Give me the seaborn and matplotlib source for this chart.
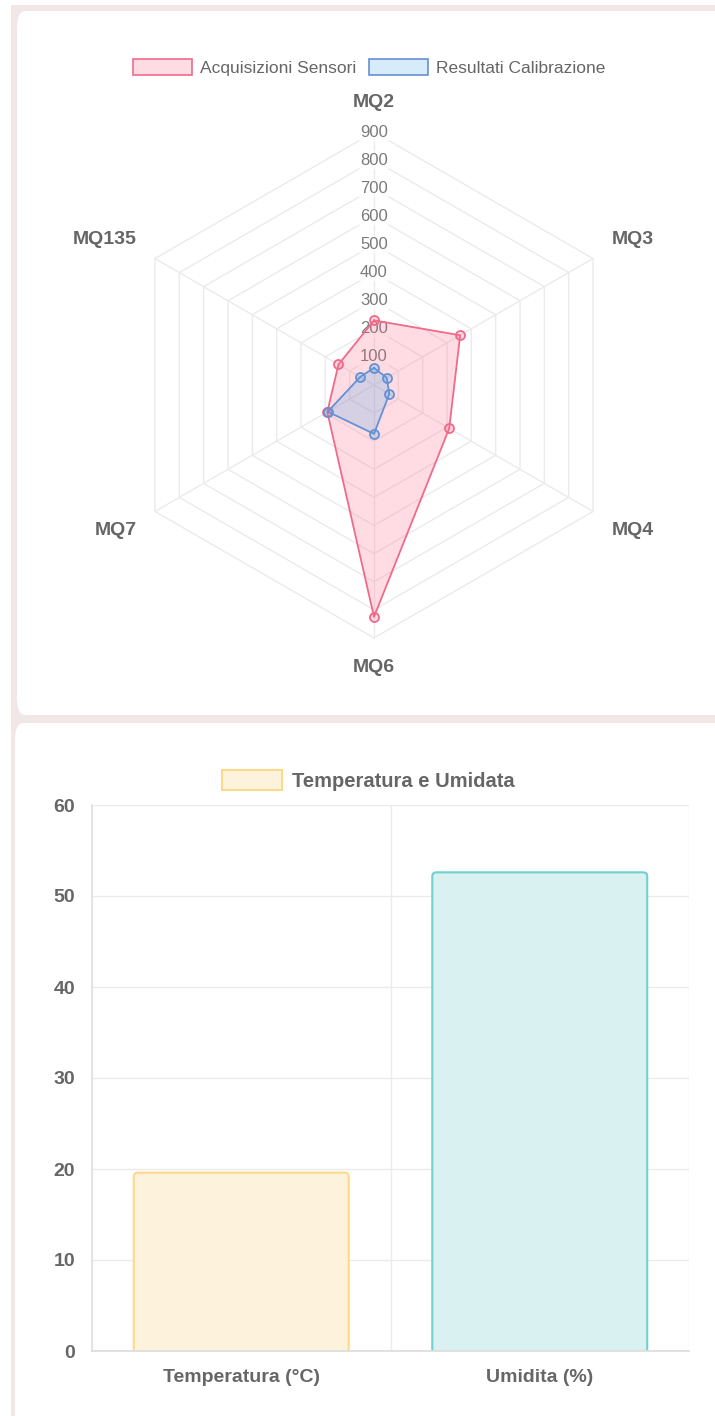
import numpy as np
import pandas as pd
import matplotlib
matplotlib.use("Agg")
import matplotlib.pyplot as plt
import seaborn as sns
from matplotlib.patches import FancyBboxPatch, Patch, Rectangle

# radar data
sensors = ['MQ2', 'MQ3', 'MQ4', 'MQ6', 'MQ7', 'MQ135']
acquisizioni = [230, 354, 309, 825, 192, 146]
calibrazione = [61, 52, 63, 174, 190, 57]
radar_ticks = [100, 200, 300, 400, 500, 600, 700, 800, 900]

# bar data
bar_labels = ['Temperatura (°C)', 'Umidita (%)']
bar_values = [19.6, 52.6]
bar_ticks = [0, 10, 20, 30, 40, 50, 60]

red = '#f06a8a'
red_fill = (1.0, 0.388, 0.518, 0.22)
blue = '#6690d4'
blue_fill = (0.212, 0.635, 0.922, 0.2)
bar_fills = ['#fdf3dc', '#d9f1f1']
bar_edges = ['#ffd98a', '#72d0d0']
grid_c = '#ebebeb'
txt_c = '#666666'

sns.set_theme(style="white")
plt.rcParams['font.family'] = ['Liberation Sans', 'DejaVu Sans']

W, H = 715, 1416
fig = plt.figure(figsize=(W / 100, H / 100), dpi=100)
fig.patch.set_facecolor('white')

# page frame and cards
fig.patches.append(Rectangle((11 / W, 0), 1, 1 - 5 / H, transform=fig.transFigure,
                             facecolor='#f1e7e7', edgecolor='none', zorder=-10))
fig.patches.append(FancyBboxPatch((17 / W, 1 - 715 / H), 720 / W, 704 / H,
                                  boxstyle='round,pad=0,rounding_size=0.012',
                                  transform=fig.transFigure, facecolor='white',
                                  edgecolor='none', zorder=-9))
fig.patches.append(FancyBboxPatch((15 / W, -0.02), 720 / W, (1416 - 723) / H + 0.02,
                                  boxstyle='round,pad=0,rounding_size=0.012',
                                  transform=fig.transFigure, facecolor='white',
                                  edgecolor='none', zorder=-9))

# ---------------- radar ----------------
cx, cy = 374, 385
R = 281  # px per 1000 units
ax_r = fig.add_axes([(cx - R) / W, (H - cy - R) / H, 2 * R / W, 2 * R / H])
ax_r.set_xlim(-1000, 1000)
ax_r.set_ylim(-1000, 1000)
ax_r.set_aspect('equal')
ax_r.axis('off')

ang = np.deg2rad(90 - 60 * np.arange(len(sensors)))
ca, sa = np.cos(ang), np.sin(ang)

for r in radar_ticks:
    ax_r.plot(np.append(r * ca, r * ca[0]), np.append(r * sa, r * sa[0]),
              color=grid_c, lw=1, zorder=1)
for c, s in zip(ca, sa):
    ax_r.plot([0, 900 * c], [0, 900 * s], color=grid_c, lw=1, zorder=1)
for r in radar_ticks:
    ax_r.text(0, r, str(r), ha='center', va='center', fontsize=12, color='#7a7a7a',
              zorder=2, bbox=dict(facecolor='white', edgecolor='none', alpha=0.75, pad=1))

for vals, lc, fc in [(acquisizioni, red, red_fill), (calibrazione, blue, blue_fill)]:
    v = np.array(vals, dtype=float)
    x, y = v * ca, v * sa
    ax_r.fill(x, y, color=fc, zorder=3, lw=0)
    ax_r.plot(np.append(x, x[0]), np.append(y, y[0]), color=lc, lw=1.3, zorder=4)
    ax_r.plot(x, y, ls='none', marker='o', ms=6.5, mfc=fc, mec=lc, mew=1.3, zorder=5)

rl = 975
for i, name in enumerate(sensors):
    c, s = ca[i], sa[i]
    if abs(c) < 1e-6:
        ha = 'center'
    else:
        ha = 'left' if c > 0 else 'right'
    va = 'bottom' if s > 0 else 'top'
    ax_r.text(rl * c, rl * s, name, ha=ha, va=va, fontsize=14, fontweight='bold',
              color=txt_c, zorder=6, clip_on=False)

leg = fig.legend(handles=[Patch(facecolor=red_fill, edgecolor=red, lw=1.2),
                          Patch(facecolor=blue_fill, edgecolor=blue, lw=1.2)],
                 labels=['Acquisizioni Sensori', 'Resultati Calibrazione'],
                 loc='center', bbox_to_anchor=(369 / W, 1 - 67.5 / H), ncol=2,
                 frameon=False, fontsize=12.5, handlelength=3.4, handleheight=1.05,
                 handletextpad=0.45, columnspacing=0.75, borderpad=0)
for t in leg.get_texts():
    t.set_color(txt_c)

# ---------------- bar chart ----------------
bl, br, bt, bb = 92, 689, 805, 1351
ax_b = fig.add_axes([bl / W, (H - bb) / H, (br - bl) / W, (bb - bt) / H])
df = pd.DataFrame({'cat': bar_labels, 'val': bar_values})
sns.barplot(data=df, x='cat', y='val', hue='cat', palette=bar_fills, legend=False,
            width=0.72, saturation=1, ax=ax_b, zorder=3)

# swap the flat bars for rounded-top ones (bottom corners hidden below the axis)
xu = 2.0 / (br - bl)
yu = (bar_ticks[-1] - bar_ticks[0]) / (bb - bt)
for p, ec in zip(list(ax_b.patches), bar_edges):
    x0, w, h = p.get_x(), p.get_width(), p.get_height()
    fc = p.get_facecolor()
    p.set_visible(False)
    ax_b.add_patch(FancyBboxPatch((x0, -2), w, h + 2,
                                  boxstyle=f'round,pad=0,rounding_size={4 * xu}',
                                  mutation_aspect=yu / xu, facecolor=fc, edgecolor=ec,
                                  lw=1.5, zorder=3, clip_on=True))

ax_b.set_xlim(-0.5, 1.5)
ax_b.set_ylim(bar_ticks[0], bar_ticks[-1])
ax_b.set_yticks(bar_ticks)
ax_b.set_xlabel('')
ax_b.set_ylabel('')
ax_b.set_xticks([-0.5, 0.5, 1.5], minor=True)
ax_b.grid(axis='y', color=grid_c, lw=1, zorder=0)
ax_b.grid(axis='x', which='minor', color=grid_c, lw=1, zorder=0)
ax_b.set_axisbelow(True)
for sp in ['top', 'right']:
    ax_b.spines[sp].set_visible(False)
ax_b.spines['left'].set_color('#e2e2e2')
ax_b.spines['bottom'].set_color('#dddddd')
ax_b.spines['bottom'].set_zorder(4)
ax_b.tick_params(axis='y', length=9, color=grid_c, pad=3, labelsize=14, labelcolor=txt_c)
ax_b.tick_params(axis='x', which='major', length=0, pad=13, labelsize=14, labelcolor=txt_c)
ax_b.tick_params(axis='x', which='minor', length=8, color=grid_c)
for t in ax_b.get_xticklabels() + ax_b.get_yticklabels():
    t.set_fontweight('bold')

leg2 = fig.legend(handles=[Patch(facecolor=bar_fills[0], edgecolor=bar_edges[0], lw=1.5)],
                  labels=['Temperatura e Umidata'], loc='center',
                  bbox_to_anchor=(368.5 / W, 1 - 780.5 / H), frameon=False,
                  prop={'size': 14.5, 'weight': 'bold'}, handlelength=3.0,
                  handleheight=1.15, handletextpad=0.5, borderpad=0)
for t in leg2.get_texts():
    t.set_color(txt_c)

fig.savefig('out.png', dpi=100, facecolor=fig.get_facecolor())
